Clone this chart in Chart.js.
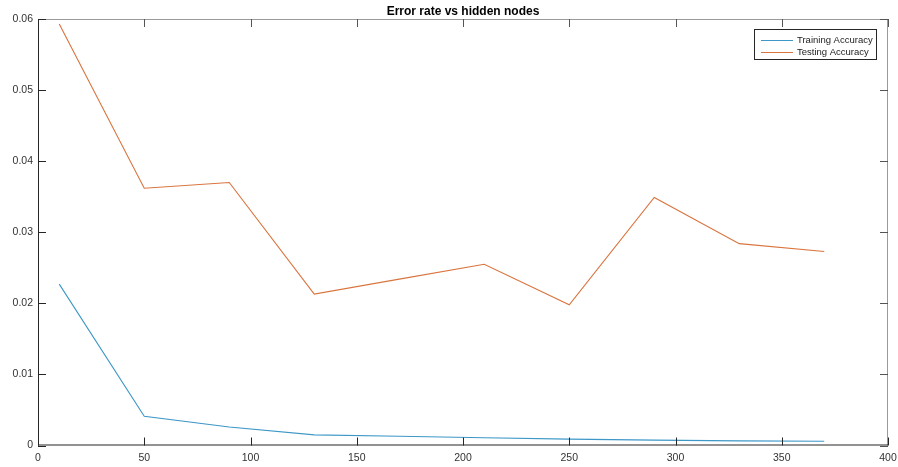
<!DOCTYPE html>
<html>
<head>
<meta charset="utf-8">
<script src="https://cdn.jsdelivr.net/npm/chart.js@4"></script>
<style>
  html, body { margin: 0; padding: 0; background: #ffffff; }
  #wrap { width: 898px; height: 467px; }
</style>
</head>
<body>
<div id="wrap"><canvas id="chart" width="898" height="467"></canvas></div>
<script>
// Hidden-layer sizes and the error rates measured at each size
const hiddenNodes = [10, 50, 90, 130, 170, 210, 250, 290, 330, 370];
const trainingError = [0.0227, 0.0041, 0.0026, 0.0015, 0.0013, 0.0011, 0.0009, 0.00075, 0.00065, 0.0006];
const testingError = [0.0593, 0.0362, 0.0370, 0.0213, 0.0234, 0.0255, 0.0198, 0.0349, 0.0284, 0.0273];
const seriesNames = ['Training Accuracy', 'Testing Accuracy'];
const titleText = 'Error rate vs hidden nodes';
const xTickValues = [0, 50, 100, 150, 200, 250, 300, 350, 400];
const yTickValues = [0, 0.01, 0.02, 0.03, 0.04, 0.05, 0.06];
const yTickLabels = ['0', '0.01', '0.02', '0.03', '0.04', '0.05', '0.06'];

const seriesColors = ['#3d97c7', '#d9743e'];
const FONT = '"Liberation Sans", Arial, Helvetica, sans-serif';

const toPoints = (xs, ys) => xs.map((x, i) => ({ x: x, y: ys[i] }));

// Box, inward ticks, title and legend in the MATLAB figure style
const axesDecor = {
  id: 'axesDecor',
  afterDraw(chart) {
    const ctx = chart.ctx;
    const a = chart.chartArea;
    const xs = chart.scales.x, ys = chart.scales.y;
    const TL = 8;
    ctx.save();
    ctx.lineWidth = 1;

    // top and right edges (lighter)
    ctx.strokeStyle = '#9a9a9a';
    ctx.beginPath();
    ctx.moveTo(a.left, a.top + 0.5); ctx.lineTo(a.right, a.top + 0.5);
    ctx.moveTo(a.right - 0.5, a.top); ctx.lineTo(a.right - 0.5, a.bottom);
    ctx.stroke();

    // ticks on the top and right edges
    ctx.strokeStyle = '#555555';
    ctx.beginPath();
    xTickValues.forEach(v => {
      const px = Math.round(xs.getPixelForValue(v)) + 0.5;
      ctx.moveTo(px, a.top); ctx.lineTo(px, a.top + TL);
    });
    yTickValues.forEach(v => {
      const py = Math.round(ys.getPixelForValue(v)) + 0.5;
      ctx.moveTo(a.right, py); ctx.lineTo(a.right - TL, py);
    });
    ctx.stroke();

    // left and bottom edges with their ticks
    ctx.strokeStyle = '#262626';
    ctx.beginPath();
    ctx.moveTo(a.left + 0.5, a.top); ctx.lineTo(a.left + 0.5, a.bottom);
    ctx.moveTo(a.left, a.bottom - 0.5); ctx.lineTo(a.right, a.bottom - 0.5);
    xTickValues.forEach(v => {
      const px = Math.round(xs.getPixelForValue(v)) + 0.5;
      ctx.moveTo(px, a.bottom); ctx.lineTo(px, a.bottom - TL);
    });
    yTickValues.forEach(v => {
      const py = Math.round(ys.getPixelForValue(v)) + 0.5;
      ctx.moveTo(a.left, py); ctx.lineTo(a.left + TL, py);
    });
    ctx.stroke();

    // title
    ctx.fillStyle = '#000000';
    ctx.font = 'bold 12px ' + FONT;
    ctx.textAlign = 'center';
    ctx.textBaseline = 'alphabetic';
    ctx.fillText(titleText, (a.left + a.right) / 2, 14.5);

    // legend
    const lx = 754, ly = 29, lw = 123, lh = 31;
    ctx.fillStyle = '#ffffff';
    ctx.fillRect(lx, ly, lw, lh);
    ctx.strokeStyle = '#262626';
    ctx.strokeRect(lx + 0.5, ly + 0.5, lw - 1, lh - 1);
    ctx.font = '9.5px ' + FONT;
    ctx.textAlign = 'left';
    ctx.textBaseline = 'middle';
    chart.data.datasets.forEach((ds, i) => {
      const ry = ly + 11 + i * 11.5;
      ctx.strokeStyle = ds.borderColor;
      ctx.beginPath();
      ctx.moveTo(761, Math.round(ry) + 0.5); ctx.lineTo(793, Math.round(ry) + 0.5);
      ctx.stroke();
      ctx.fillStyle = '#222222';
      ctx.fillText(ds.label, 797, ry + 0.5);
    });
    ctx.restore();
  }
};

new Chart(document.getElementById('chart'), {
  type: 'line',
  data: {
    datasets: [
      {
        label: seriesNames[0],
        data: toPoints(hiddenNodes, trainingError),
        borderColor: seriesColors[0],
        borderWidth: 1.1,
        pointRadius: 0,
        fill: false,
        tension: 0
      },
      {
        label: seriesNames[1],
        data: toPoints(hiddenNodes, testingError),
        borderColor: seriesColors[1],
        borderWidth: 1.1,
        pointRadius: 0,
        fill: false,
        tension: 0
      }
    ]
  },
  options: {
    responsive: false,
    animation: false,
    layout: { padding: { top: 19, right: 10, left: 0, bottom: 0 } },
    plugins: {
      legend: { display: false },
      title: { display: false },
      tooltip: { enabled: false }
    },
    scales: {
      x: {
        type: 'linear',
        min: 0,
        max: 400,
        afterFit(scale) {
          scale.height = 21.5;
          scale.paddingLeft = 0;
          scale.paddingRight = 0;
        },
        afterBuildTicks(scale) { scale.ticks = xTickValues.map(v => ({ value: v })); },
        grid: { display: false, drawTicks: false },
        border: { display: false },
        ticks: {
          padding: 6,
          maxRotation: 0,
          autoSkip: false,
          color: '#333333',
          font: { family: FONT, size: 10.5 },
          callback: v => String(v)
        }
      },
      y: {
        type: 'linear',
        min: 0,
        max: 0.06,
        afterFit(scale) {
          scale.width = 38;
          scale.paddingTop = 0;
          scale.paddingBottom = 0;
        },
        afterBuildTicks(scale) { scale.ticks = yTickValues.map(v => ({ value: v })); },
        grid: { display: false, drawTicks: false },
        border: { display: false },
        ticks: {
          padding: 5,
          autoSkip: false,
          color: '#333333',
          font: { family: FONT, size: 10.5 },
          callback: (v) => {
            const i = yTickValues.findIndex(t => Math.abs(t - v) < 1e-9);
            return i >= 0 ? yTickLabels[i] : '';
          }
        }
      }
    }
  },
  plugins: [axesDecor]
});
</script>
</body>
</html>
